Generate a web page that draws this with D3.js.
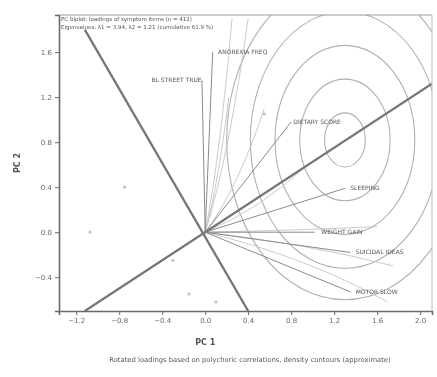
<!DOCTYPE html>
<html>
<head>
<meta charset="utf-8">
<script src="https://cdn.jsdelivr.net/npm/d3@7"></script>
<style>
  body { margin: 0; background: #fff; }
  text { font-family: "DejaVu Sans", sans-serif; }
</style>
</head>
<body>
<div id="chart"></div>
<script>
var svgWidth = 437;
var svgHeight = 377;

var margin = { top: 15, right: 5, bottom: 66, left: 59 };
var width = svgWidth - margin.left - margin.right;
var height = svgHeight - margin.top - margin.bottom;

// tick labels
var xTicks = [-1.2, -0.8, -0.4, 0.0, 0.4, 0.8, 1.2, 1.6, 2.0];
var yTicks = [-0.4, 0.0, 0.4, 0.8, 1.2, 1.6];

// loading vectors (PC1, PC2) and their names
var loadNames = ["ANOREXIA FREQ", "BL STREET TRUE", "DIETARY SCORE", "SLEEPING", "WEIGHT GAIN", "SUICIDAL IDEAS", "MOTOR SLOW"];
var loadX = [0.07, -0.03, 0.80, 1.30, 1.02, 1.35, 1.35];
var loadY = [1.60, 1.35, 0.98, 0.39, 0.00, -0.18, -0.53];
var labelX = [0.12, -0.50, 0.82, 1.35, 1.08, 1.40, 1.40];

// extra faint item vectors
var faintX = [0.25, 0.40, 0.22, 0.55, 0.95, 1.60, 1.75, 1.70];
var faintY = [1.90, 1.90, 1.20, 1.10, 0.60, 0.05, -0.30, -0.62];

// the two axis lines of the rotation
var axis1X = [-1.12, 0.40];
var axis1Y = [1.80, -0.70];
var axis2X = [-1.12, 2.11];
var axis2Y = [-0.70, 1.32];

// contour rings around the density peak (half widths, half heights)
var peakX = 1.30;
var peakY = 0.82;
var ringRx = [0.19, 0.42, 0.65, 0.88, 1.10];
var ringRy = [0.24, 0.54, 0.84, 1.14, 1.42];

// scattered scores
var ptsX = [-1.07, -0.15, -0.30, 0.55, 0.10, -0.75];
var ptsY = [0.00, -0.55, -0.25, 1.05, -0.62, 0.40];

var titleLines = ["PC biplot: loadings of symptom items (n = 412)",
                  "Eigenvalues: \u03bb1 = 3.94, \u03bb2 = 1.21 (cumulative 61.9 %)"];
var xTitle = "PC 1";
var yTitle = "PC 2";
var caption = "Rotated loadings based on polychoric correlations, density contours (approximate)";

var svg = d3.select("#chart")
    .append("svg")
    .attr("width", svgWidth)
    .attr("height", svgHeight);

var defs = svg.append("defs");
defs.append("filter").attr("id", "soft")
    .append("feGaussianBlur").attr("stdDeviation", 0.65);
defs.append("clipPath").attr("id", "clip")
    .append("rect").attr("width", width).attr("height", height);

var root = svg.append("g").attr("filter", "url(#soft)");
var g = root.append("g")
    .attr("transform", "translate(" + margin.left + "," + margin.top + ")");

var x = d3.scaleLinear().domain([-1.36, 2.11]).range([0, width]);
var y = d3.scaleLinear().domain([-0.70, 1.93]).range([height, 0]);

var plot = g.append("g").attr("clip-path", "url(#clip)");

// contour rings
plot.selectAll("ellipse.ring")
    .data(ringRx)
    .enter()
    .append("ellipse")
    .attr("cx", x(peakX))
    .attr("cy", y(peakY))
    .attr("rx", d => x(d) - x(0))
    .attr("ry", (d, i) => y(0) - y(ringRy[i]))
    .attr("fill", "none")
    .attr("stroke", "#b0b0b0")
    .attr("stroke-width", 1.1);

// faint item curves
plot.selectAll("path.faint")
    .data(faintX)
    .enter()
    .append("path")
    .attr("d", function (d, i) {
        var cx = x(d * 0.55), cy = y(faintY[i] * 0.35);
        return "M" + x(0) + "," + y(0) + " Q" + cx + "," + cy + " " + x(d) + "," + y(faintY[i]);
    })
    .attr("fill", "none")
    .attr("stroke", "#c4c4c4")
    .attr("stroke-width", 0.9);

// loading vectors
plot.selectAll("line.load")
    .data(loadX)
    .enter()
    .append("line")
    .attr("x1", x(0))
    .attr("y1", y(0))
    .attr("x2", d => x(d))
    .attr("y2", (d, i) => y(loadY[i]))
    .attr("stroke", "#8a8a8a")
    .attr("stroke-width", 1);

// rotation axes
plot.append("line")
    .attr("x1", x(axis1X[0])).attr("y1", y(axis1Y[0]))
    .attr("x2", x(axis1X[1])).attr("y2", y(axis1Y[1]))
    .attr("stroke", "#767676").attr("stroke-width", 2.3);
plot.append("line")
    .attr("x1", x(axis2X[0])).attr("y1", y(axis2Y[0]))
    .attr("x2", x(axis2X[1])).attr("y2", y(axis2Y[1]))
    .attr("stroke", "#767676").attr("stroke-width", 2.3);

// scores
plot.selectAll("circle")
    .data(ptsX)
    .enter()
    .append("circle")
    .attr("cx", d => x(d))
    .attr("cy", (d, i) => y(ptsY[i]))
    .attr("r", 1.6)
    .attr("fill", "#c4c4c4");

// labels
plot.selectAll("text.load")
    .data(loadNames)
    .enter()
    .append("text")
    .attr("x", (d, i) => x(labelX[i]))
    .attr("y", (d, i) => y(loadY[i]) + 2)
    .text(d => d)
    .style("font-size", "6px")
    .style("fill", "#555");

// axes
var bottomAxis = d3.axisBottom(x).tickValues(xTicks).tickFormat(d3.format(".1f")).tickSize(4);
var leftAxis = d3.axisLeft(y).tickValues(yTicks).tickFormat(d3.format(".1f")).tickSize(4);

var xa = g.append("g")
    .attr("transform", "translate(0," + height + ")")
    .call(bottomAxis);
var ya = g.append("g").call(leftAxis);

[xa, ya].forEach(function (a) {
    a.select(".domain").attr("stroke", "#6a6a6a").attr("stroke-width", 1.6);
    a.selectAll(".tick line").attr("stroke", "#6a6a6a");
    a.selectAll(".tick text").style("font-size", "7px").style("fill", "#666");
});

// top and right border
g.append("line").attr("x1", 0).attr("y1", 0).attr("x2", width).attr("y2", 0)
    .attr("stroke", "#9a9a9a").attr("stroke-width", 1);
g.append("line").attr("x1", width).attr("y1", 0).attr("x2", width).attr("y2", height)
    .attr("stroke", "#bbbbbb").attr("stroke-width", 1);

// title in the corner
g.selectAll("text.title")
    .data(titleLines)
    .enter()
    .append("text")
    .attr("x", 2)
    .attr("y", (d, i) => 6 + i * 8)
    .text(d => d)
    .style("font-size", "5.5px")
    .style("fill", "#555");

// axis titles
root.append("text")
    .attr("x", margin.left + x(0))
    .attr("y", 345)
    .attr("text-anchor", "middle")
    .text(xTitle)
    .style("font-size", "8px")
    .style("font-weight", "bold")
    .style("fill", "#555");

root.append("text")
    .attr("transform", "translate(20," + (margin.top + height / 2) + ") rotate(-90)")
    .attr("text-anchor", "middle")
    .text(yTitle)
    .style("font-size", "8px")
    .style("font-weight", "bold")
    .style("fill", "#555");

root.append("text")
    .attr("x", 250)
    .attr("y", 362)
    .attr("text-anchor", "middle")
    .text(caption)
    .style("font-size", "6.8px")
    .style("fill", "#555");
</script>
</body>
</html>
